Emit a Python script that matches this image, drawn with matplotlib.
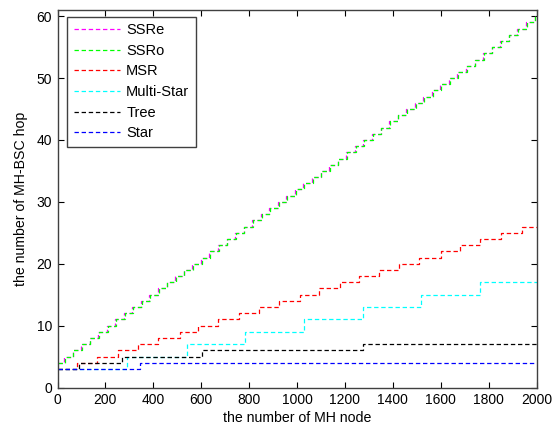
import matplotlib
matplotlib.use("Agg")
import matplotlib.pyplot as plt

plt.rcParams['font.family'] = ['Liberation Sans', 'DejaVu Sans']

X_MAX = 2000

# Step breakpoints (x where the hop count rises) and hop values per series
ssr_breaks = [30, 66, 102, 137, 173, 209, 245, 280, 316, 352,
              387, 423, 459, 495, 530, 566, 602, 637, 673, 709,
              745, 780, 816, 852, 887, 923, 959, 995, 1030, 1066,
              1102, 1137, 1173, 1209, 1245, 1280, 1316, 1352, 1387, 1423,
              1459, 1495, 1530, 1566, 1602, 1637, 1673, 1709, 1745, 1780,
              1816, 1852, 1887, 1923, 1959, 1995]
ssr_values = list(range(4, 61))

ssre_breaks = [b - 3 for b in ssr_breaks]
ssre_values = ssr_values
ssro_breaks = ssr_breaks
ssro_values = ssr_values

msr_breaks = [80, 166, 251, 335, 421, 511, 588, 672, 759, 841, 925, 1012,
              1093, 1180, 1260, 1342, 1427, 1511, 1600, 1681, 1764, 1850, 1938]
msr_values = [3, 4, 5, 6, 7, 8, 9, 10, 11, 12, 13, 14, 15, 16, 17, 18, 19,
              20, 21, 22, 23, 24, 25, 26]

mstar_breaks = [290, 540, 784, 1030, 1274, 1516, 1766]
mstar_values = [3, 5, 7, 9, 11, 13, 15, 17]

tree_breaks = [90, 268, 602, 1274]
tree_values = [3, 4, 5, 6, 7]

star_breaks = [343]
star_values = [3, 4]

labels = ['SSRe', 'SSRo', 'MSR', 'Multi-Star', 'Tree', 'Star']
colors = ['#ff00ff', '#00ff00', '#ff0000', '#00ffff', '#000000', '#0000ff']
series = [(ssre_breaks, ssre_values), (ssro_breaks, ssro_values),
          (msr_breaks, msr_values), (mstar_breaks, mstar_values),
          (tree_breaks, tree_values), (star_breaks, star_values)]

fig = plt.figure(figsize=(5.6, 4.28), dpi=100)
ax = fig.add_axes([0.1027, 0.0946, 0.8554, 0.882])

for (brk, val), lab, col in zip(series, labels, colors):
    xs = [0] + brk + [X_MAX]
    ys = val + [val[-1]]
    ax.plot(xs, ys, drawstyle='steps-post', color=col, linestyle=(0, (3.5, 2.2)),
            linewidth=0.9, label=lab)

ax.set_xlim(0, 2000)
ax.set_ylim(0, 61)
ax.set_xticks(range(0, 2001, 200))
ax.set_yticks(range(0, 61, 10))
ax.tick_params(direction='in', top=True, right=True, length=4, width=0.8,
               labelsize=10, pad=4)
for s in ax.spines.values():
    s.set_color('#404040')
    s.set_linewidth(1.0)

ax.set_xlabel('the number of MH node', fontsize=10.2, labelpad=3)
ax.set_ylabel('the number of MH-BSC hop', fontsize=10.2, labelpad=6)

leg = ax.legend(loc='upper left', bbox_to_anchor=(0.02, 0.982), borderaxespad=0,
                fontsize=10.5, handlelength=3.2, handletextpad=0.4,
                labelspacing=0.45, fancybox=False, framealpha=1,
                borderpad=0.45)
leg.get_frame().set_edgecolor('#404040')
leg.get_frame().set_linewidth(1.0)

fig.savefig('out.png', dpi=100)
